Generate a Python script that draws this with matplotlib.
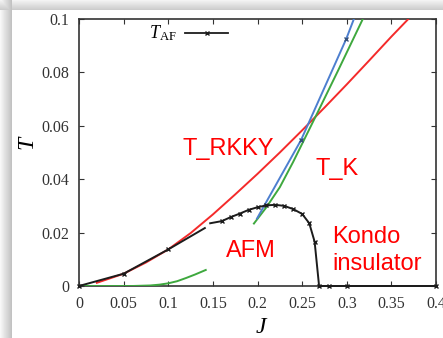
import numpy as np
import matplotlib.pyplot as plt

plt.rcParams['mathtext.fontset'] = 'custom'
plt.rcParams['mathtext.rm'] = 'Liberation Serif'
plt.rcParams['mathtext.it'] = 'Liberation Serif:italic'

# T_AF (Neel temperature), low-J branch and high-J branch down to the Kondo insulator
j_af_low = [0.0, 0.05, 0.1, 0.141]
t_af_low = [0.0, 0.0046, 0.0137, 0.0217]
j_af_high = [0.147, 0.16, 0.17, 0.18, 0.19, 0.2, 0.21, 0.22, 0.23, 0.24,
             0.25, 0.258, 0.264, 0.269, 0.28, 0.3, 0.4]
t_af_high = [0.0235, 0.0243, 0.0258, 0.0271, 0.0285, 0.0295, 0.0302, 0.0304,
             0.0300, 0.0288, 0.027, 0.0235, 0.0166, 0.0, 0.0, 0.0, 0.0]

# RKKY scale
j_rkky = [0.02, 0.05, 0.075, 0.1, 0.125, 0.15, 0.175, 0.2, 0.225, 0.25,
          0.275, 0.3, 0.325, 0.35, 0.369]
t_rkky = [0.0012, 0.0046, 0.0088, 0.0137, 0.0198, 0.0268, 0.0343, 0.042,
          0.05, 0.0583, 0.0668, 0.0755, 0.0844, 0.0934, 0.1]

# Kondo temperature (numerical, blue)
j_kn = [0.1995, 0.2487, 0.2995, 0.308]
t_kn = [0.0253, 0.0546, 0.0926, 0.1]

# Kondo temperature (analytic, green)
j_ka_low = [0.0, 0.06, 0.07, 0.08, 0.09, 0.1, 0.11, 0.12, 0.13, 0.142]
t_ka_low = [0.0, 0.0, 0.0001, 0.0002, 0.0005, 0.001, 0.0018, 0.003, 0.0043, 0.006]
j_ka_high = [0.196, 0.21, 0.225, 0.24, 0.2678, 0.29, 0.318]
t_ka_high = [0.0234, 0.0295, 0.037, 0.0465, 0.0653, 0.0805, 0.1]

xticks = [0, 0.05, 0.1, 0.15, 0.2, 0.25, 0.3, 0.35, 0.4]
xlabels = ['0', '0.05', '0.1', '0.15', '0.2', '0.25', '0.3', '0.35', '0.4']
yticks = [0, 0.02, 0.04, 0.06, 0.08, 0.1]
ylabels = ['0', '0.02', '0.04', '0.06', '0.08', '0.1']

fig = plt.figure(figsize=(4.43, 3.38), dpi=100)
fig.patch.set_facecolor('white')

# drop shadow along top and left edges of the panel
W, H = 443, 338
bg = np.ones((H, W))
top = np.linspace(0.95, 0.80, 10)
left = np.linspace(0.97, 0.76, 12)
bg[:10, :] = np.minimum(bg[:10, :], top[:, None])
bg[:, :12] = np.minimum(bg[:, :12], left[None, :])
fig.figimage(bg, xo=0, yo=0, origin='upper', cmap='gray', vmin=0, vmax=1, zorder=-5)

ax = fig.add_axes([79 / 443, 52 / 338, 357 / 443, 267 / 338])
ax.set_zorder(1)
ax.set_facecolor('white')

red = '#f42a2a'
blue = '#4d7fcf'
green = '#3ea83e'
black = '#1c1c1c'

ax.plot(j_rkky, t_rkky, color=red, lw=1.4, zorder=3)
ax.plot(j_ka_low, t_ka_low, color=green, lw=1.4, zorder=3)
ax.plot(j_ka_high, t_ka_high, color=green, lw=1.4, zorder=3)
ax.plot(j_kn, t_kn, color=blue, lw=1.4, marker='x', ms=3, mew=1,
        markevery=[1, 2], mec='#35507a', zorder=3)
ax.plot(j_af_low, t_af_low, color=black, lw=1.4, marker='x', ms=3.5, mew=1,
        markevery=[0, 1, 2], zorder=4, clip_on=False)
ax.plot(j_af_high, t_af_high, color=black, lw=1.4, marker='x', ms=3.5, mew=1,
        markevery=list(range(1, 17)), zorder=4, clip_on=False)

# legend entry drawn by hand, gnuplot style
ax.plot([0.1188, 0.167], [0.0948, 0.0948], color=black, lw=1.3)
ax.plot([0.1434], [0.0948], color=black, marker='x', ms=3.5, mew=1)
ax.text(0.1098, 0.0948, r'$T_{\rm AF}$', fontsize=13, ha='right', va='center')

tfont = dict(family='Liberation Sans', fontsize=17, color='#ff0000')
ax.text(0.1165, 0.0491, 'T_RKKY', **tfont)
ax.text(0.2655, 0.0415, 'T_K', **tfont)
ax.text(0.1645, 0.0108, 'AFM', **tfont)
ax.text(0.2835, 0.0162, 'Kondo', **tfont)
ax.text(0.2835, 0.0060, 'insulator', **tfont)

ax.set_xlim(0, 0.4)
ax.set_ylim(0, 0.1)
ax.set_xticks(xticks)
ax.set_xticklabels(xlabels)
ax.set_yticks(yticks)
ax.set_yticklabels(ylabels)
ax.tick_params(direction='in', length=3.5, width=0.8, top=True, right=True,
               labelsize=11.5, labelcolor='#333333', pad=7, color='#333333')
for lab in ax.get_xticklabels() + ax.get_yticklabels():
    lab.set_family('Liberation Serif')
for sp in ax.spines.values():
    sp.set_linewidth(1.2)
    sp.set_color('#333333')

ax.set_xlabel(r'$J$', fontsize=17)
ax.set_ylabel(r'$T$', fontsize=17)
ax.xaxis.set_label_coords(0.513, -0.105)
ax.yaxis.set_label_coords(-0.112, 0.536)

fig.savefig('out.png', dpi=100)
